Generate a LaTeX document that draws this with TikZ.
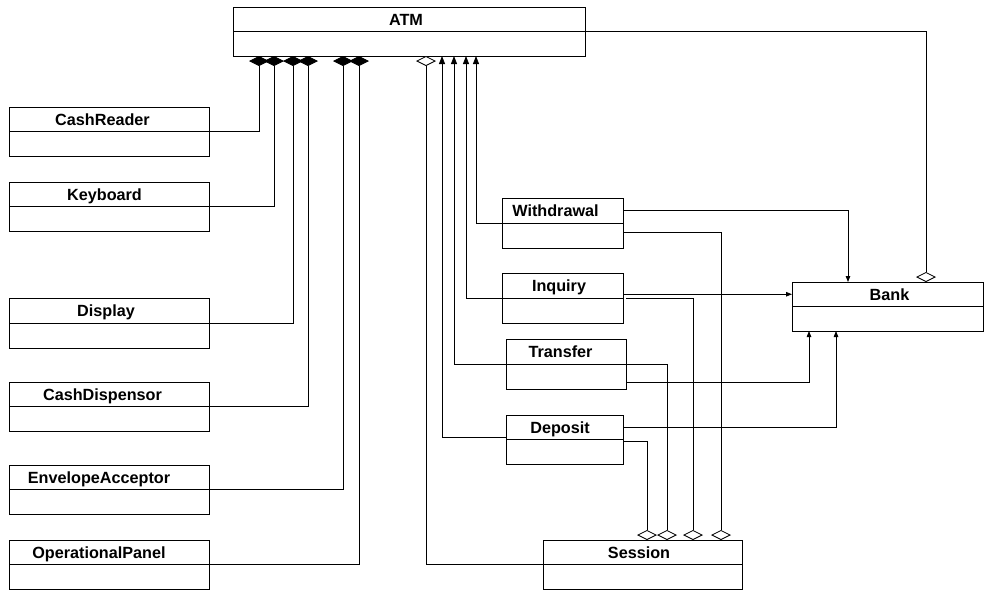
\documentclass[tikz,border=0pt]{standalone}
\usepackage{fontspec}
\setmainfont{Liberation Sans}
\usetikzlibrary{arrows.meta}
\tikzset{
  classbox/.style={draw, rectangle, line width=0.9pt, inner sep=0pt, outer sep=0pt},
  divider/.style={line width=0.9pt},
  classname/.style={anchor=base, inner sep=0pt, font=\fontsize{16.2}{19}\selectfont\bfseries},
  link/.style={line width=0.8pt},
  comp/.style={link, -{Diamond[length=10pt,width=20pt]}},
  agg/.style={link, -{Diamond[fill=white,length=10pt,width=20pt]}},
  nav/.style={link, -{Triangle[length=8pt,width=6pt]}},
  navs/.style={link, -{Triangle[length=6pt,width=4.5pt]}},
}
\newcommand{\umlclass}[7]{%
  \node[classbox, minimum width=#4pt, minimum height=#5pt, anchor=north west] (#1) at (#2,#3) {};
  \draw[divider] (#1.west) -- (#1.east);
  \node[classname] (#1-t) at ([xshift=#6pt, yshift={#5pt/4-5.8pt}]#1.center) {#7};
}
\begin{document}
\begin{tikzpicture}[x=1pt,y=-1pt]
\useasboundingbox (0,0) rectangle (984,590);
% classes
\umlclass{atm}{233}{7}{352}{49}{-3}{ATM}
\umlclass{cashreader}{9}{107}{200}{49}{-6.5}{CashReader}
\umlclass{keyboard}{9}{182}{200}{49}{-4.5}{Keyboard}
\umlclass{display}{9}{298}{200}{50}{-3}{Display}
\umlclass{cashdisp}{9}{382}{200}{49}{-6.5}{CashDispensor}
\umlclass{envacc}{9}{465}{200}{49}{-10}{EnvelopeAcceptor}
\umlclass{oppanel}{9}{540}{200}{49}{-10}{OperationalPanel}
\umlclass{withdrawal}{502}{198}{121}{50}{-7}{Withdrawal}
\umlclass{inquiry}{502}{273}{121}{50}{-3.5}{Inquiry}
\umlclass{transfer}{506}{339}{120}{50}{-5.5}{Transfer}
\umlclass{deposit}{506}{415}{117}{49}{-4.5}{Deposit}
\umlclass{session}{543}{540}{199}{49}{-3.5}{Session}
\umlclass{bank}{792}{282}{191}{49}{2}{Bank}
% composition to ATM
\draw[comp] (cashreader.east) -| ([xshift=26pt]atm.south west);
\draw[comp] (keyboard.east) -| ([xshift=41pt]atm.south west);
\draw[comp] (display.east) -| ([xshift=60pt]atm.south west);
\draw[comp] (cashdisp.east) -| ([xshift=75pt]atm.south west);
\draw[comp] (envacc.east) -| ([xshift=110pt]atm.south west);
\draw[comp] (oppanel.east) -| ([xshift=126pt]atm.south west);
% aggregation Session -> ATM
\draw[agg] (session.west) -| ([xshift=193pt]atm.south west);
% navigation transactions -> ATM
\draw[nav] (withdrawal.west) -| ([xshift=243pt]atm.south west);
\draw[nav] (inquiry.west) -| ([xshift=233pt]atm.south west);
\draw[nav] (transfer.west) -| ([xshift=221pt]atm.south west);
\draw[nav] ([yshift=2pt]deposit.west) -| ([xshift=209pt]atm.south west);
% ATM -> Bank aggregation
\draw[agg] (atm.east) -| ([xshift=134pt]bank.north west);
% transactions -> Bank
\draw[navs] ([yshift=12.5pt]withdrawal.east) -| ([xshift=56pt]bank.north west);
\draw[navs] (inquiry.east |- bank-t) -- (bank.west |- bank-t);
\draw[navs] ([yshift=-18pt]transfer.east) -| ([xshift=17pt]bank.south west);
\draw[navs] ([yshift=12.5pt]deposit.east) -| ([xshift=44pt]bank.south west);
% transactions -> Session aggregation
\draw[agg] ([yshift=-9pt]withdrawal.east) -| ([xshift=178pt]session.north west);
\draw[agg] ([xshift=3pt]inquiry.east) -| ([xshift=150pt]session.north west);
\draw[agg] (transfer.east) -| ([xshift=124pt]session.north west);
\draw[agg] ([yshift=-1.5pt]deposit.east) -| ([xshift=104pt]session.north west);
\end{tikzpicture}
\end{document}
